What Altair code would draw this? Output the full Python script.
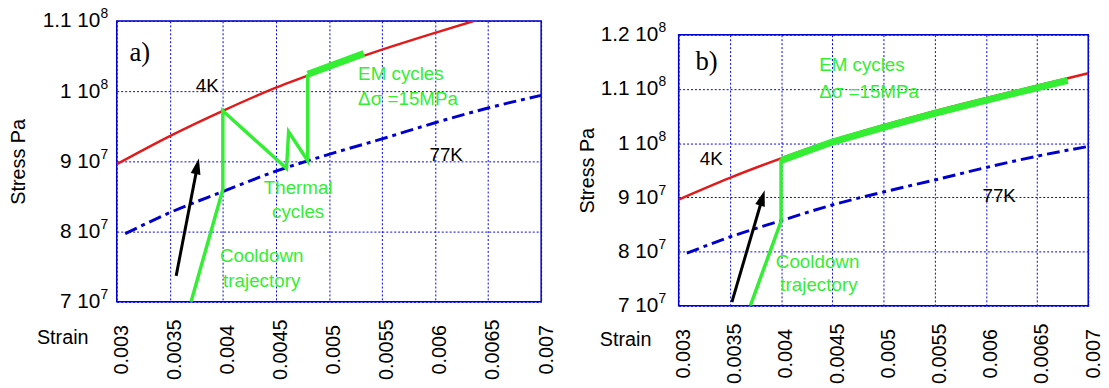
import altair as alt
import pandas as pd

# ---------------- data ----------------
strain_ticks = [0.003, 0.0035, 0.004, 0.0045, 0.005, 0.0055, 0.006, 0.0065, 0.007]

# 4K yield curve (red)
strain_4k = [0.003, 0.0035, 0.004, 0.0045, 0.005, 0.0055, 0.006, 0.0065, 0.007]
stress_4k = [8.96e7, 9.36e7, 9.72e7, 1.005e8, 1.033e8, 1.059e8, 1.083e8, 1.106e8, 1.129e8]

# 77K yield curve (blue dash-dot)
strain_77k = [0.00308, 0.0035, 0.004, 0.0045, 0.005, 0.0055, 0.006, 0.0065, 0.007]
stress_77k = [7.97e7, 8.27e7, 8.57e7, 8.86e7, 9.10e7, 9.32e7, 9.55e7, 9.76e7, 9.94e7]

# panel a) trajectory (green)
a_path_strain = [0.0037, 0.004, 0.004, 0.0046, 0.00462, 0.0048, 0.0048]
a_path_stress = [7.0e7, 8.6e7, 9.72e7, 8.9e7, 9.42e7, 9.01e7, 1.024e8]
a_em_strain = [0.0048, 0.00533]
a_em_stress = [1.024e8, 1.0535e8]
a_arrow_strain = [0.00356, 0.003774]
a_arrow_stress = [7.37e7, 9.04e7]
a_yticks = [7e7, 8e7, 9e7, 1e8, 1.1e8]

# panel b) trajectory (green)
b_path_strain = [0.0037, 0.004, 0.004]
b_path_stress = [7.0e7, 8.56e7, 9.71e7]
b_em_strain = [0.004, 0.0045, 0.005, 0.0055, 0.006, 0.0065, 0.0068]
b_em_stress = [9.68e7, 1.002e8, 1.029e8, 1.055e8, 1.079e8, 1.102e8, 1.116e8]
b_arrow_strain = [0.00352, 0.00384]
b_arrow_stress = [7.07e7, 9.13e7]
b_yticks = [7e7, 8e7, 9e7, 1e8, 1.1e8, 1.2e8]

# annotations (text, strain, stress)
a_center_txt = ["4K", "77K", "Thermal", "cycles", "Cooldown", "trajectory"]
a_center_x = [0.003853, 0.006105, 0.00471, 0.00471, 0.004366, 0.004366]
a_center_y = [1.007e8, 9.085e7, 8.62e7, 8.28e7, 7.648e7, 7.296e7]
a_center_col = ["black", "black", "green", "green", "green", "green"]
a_left_txt = ["EM cycles", "Δσ =15MPa"]
a_left_x = [0.005275, 0.005275]
a_left_y = [1.024e8, 9.887e7]
a_tag = ["a)"]
a_tag_x = [0.00312]
a_tag_y = [1.0535e8]

b_center_txt = ["4K", "77K", "Cooldown", "trajectory"]
b_center_x = [0.003319, 0.00613, 0.004357, 0.00437]
b_center_y = [9.70e7, 9.03e7, 7.803e7, 7.383e7]
b_center_col = ["black", "black", "green", "green"]
b_left_txt = ["EM cycles", "Δσ =15MPa"]
b_left_x = [0.004372, 0.004372]
b_left_y = [1.1434e8, 1.0942e8]
b_tag = ["b)"]
b_tag_x = [0.003164]
b_tag_y = [1.149e8]

RED = "#e41a1a"
BLUE = "#0000cc"
GREEN = "#33ee33"
FONT = "Liberation Sans"

YMAIN = ("datum.value >= 1e8 ? format(datum.value/1e8, '.2~g') + ' 10' "
         ": format(datum.value/1e7, '.2~g') + ' 10'")
YSUP = "datum.value >= 1e8 ? '8' : '7'"


def panel(w, h, ydom, yticks, path_x, path_y, em_x, em_y, arr_x, arr_y,
          ctxt, cx, cy, ccol, ltxt, lx, ly, tag, tx, ty, arrow_angle,
          ytitle_x, ylabel_pad, xtitle_x, xtitle_y):
    xs = alt.Scale(domain=[0.003, 0.007], nice=False, zero=False)
    ys = alt.Scale(domain=ydom, nice=False, zero=False)
    xax = alt.Axis(values=strain_ticks, format="~g", labelAngle=270,
                   labelAlign="center", labelBaseline="middle",
                   labelPadding=48, labelOffset=5, tickSize=0,
                   title="Strain", titleX=xtitle_x, titleY=xtitle_y,
                   titleAlign="right", titleBaseline="middle", titleAngle=0)
    yax = alt.Axis(values=yticks, labelExpr=YMAIN, labelPadding=ylabel_pad,
                   labelFontSize=21,
                   tickSize=0, title="Stress Pa", titleX=ytitle_x, titleY=h / 2,
                   titleAlign="center", titleBaseline="middle", titleAngle=270,
                   orient="left", offset=0)
    ysup = alt.Axis(values=yticks, labelExpr=YSUP, labelPadding=ylabel_pad,
                    labelAlign="left", labelBaseline="middle", labelFontSize=14,
                    labelOffset=-7, tickSize=0, grid=False, title="",
                    orient="left", offset=0)

    X = alt.X("x:Q", scale=xs, axis=xax)
    Xn = alt.X("x:Q", scale=xs)
    Y = alt.Y("y:Q", scale=ys, axis=yax)
    Ys = alt.Y("y:Q", scale=ys, axis=ysup)
    Yn = alt.Y("y:Q", scale=ys, axis=None)

    red = alt.Chart(pd.DataFrame({"x": strain_4k, "y": stress_4k})).mark_line(
        color=RED, strokeWidth=2.5, interpolate="monotone", clip=True
    ).encode(x=X, y=Y)
    sup = alt.Chart(pd.DataFrame({"x": [0.003] * len(yticks), "y": yticks})).mark_point(
        opacity=0, size=1
    ).encode(x=Xn, y=Ys)
    blue = alt.Chart(pd.DataFrame({"x": strain_77k, "y": stress_77k})).mark_line(
        color=BLUE, strokeWidth=3, strokeDash=[13, 5, 4, 5], interpolate="monotone", clip=True
    ).encode(x=Xn, y=Yn)
    path = alt.Chart(pd.DataFrame({"x": path_x, "y": path_y, "i": list(range(len(path_x)))})).mark_line(
        color=GREEN, strokeWidth=3.5, clip=True
    ).encode(x=Xn, y=Yn, order="i:Q")
    em = alt.Chart(pd.DataFrame({"x": em_x, "y": em_y, "i": list(range(len(em_x)))})).mark_line(
        color=GREEN, strokeWidth=7, clip=True
    ).encode(x=Xn, y=Yn, order="i:Q")

    # arrow: shaft stops inside the head
    sx = [arr_x[0], arr_x[0] + 0.88 * (arr_x[1] - arr_x[0])]
    sy = [arr_y[0], arr_y[0] + 0.88 * (arr_y[1] - arr_y[0])]
    shaft = alt.Chart(pd.DataFrame({"x": sx, "y": sy})).mark_line(
        color="black", strokeWidth=3
    ).encode(x=Xn, y=Yn)
    head = alt.Chart(pd.DataFrame({"x": [arr_x[1]], "y": [arr_y[1]]})).mark_point(
        shape="M0,0L1,3.2L-1,3.2Z", filled=True, size=100, color="black",
        opacity=1, strokeWidth=0, angle=arrow_angle
    ).encode(x=Xn, y=Yn)

    ctext = alt.Chart(pd.DataFrame({"x": cx, "y": cy, "t": ctxt, "c": ccol})).mark_text(
        font=FONT, fontSize=19, align="center", baseline="middle"
    ).encode(x=Xn, y=Yn, text="t:N",
             color=alt.Color("c:N", scale=alt.Scale(domain=["black", "green"], range=["black", GREEN]), legend=None))
    ltext = alt.Chart(pd.DataFrame({"x": lx, "y": ly, "t": ltxt})).mark_text(
        font=FONT, fontSize=19, align="left", baseline="middle", color=GREEN
    ).encode(x=Xn, y=Yn, text="t:N")
    tagtext = alt.Chart(pd.DataFrame({"x": tx, "y": ty, "t": tag})).mark_text(
        font="Liberation Serif", fontSize=27, align="left", baseline="middle", color="black"
    ).encode(x=Xn, y=Yn, text="t:N")

    return alt.layer(red, sup, blue, path, em, shaft, head, ctext, ltext, tagtext).resolve_axis(
        y="independent").properties(width=w, height=h)


def spacer(hgt):
    return alt.Chart(pd.DataFrame({"v": [0]})).mark_point(opacity=0, size=1).encode(
        x=alt.X("v:Q", axis=None), y=alt.Y("v:Q", axis=None)
    ).properties(width=10, height=hgt, view=alt.ViewBackground(stroke="transparent"))


pa = panel(429, 284, [7e7, 1.1e8], a_yticks, a_path_strain, a_path_stress,
           a_em_strain, a_em_stress, a_arrow_strain, a_arrow_stress,
           a_center_txt, a_center_x, a_center_y, a_center_col,
           a_left_txt, a_left_x, a_left_y, a_tag, a_tag_x, a_tag_y, 12,
           -99.5, 17, -29, 36)
pb = panel(414, 274, [7e7, 1.2e8], b_yticks, b_path_strain, b_path_stress,
           b_em_strain, b_em_stress, b_arrow_strain, b_arrow_stress,
           b_center_txt, b_center_x, b_center_y, b_center_col,
           b_left_txt, b_left_x, b_left_y, b_tag, b_tag_x, b_tag_y, 17,
           -92, 21, -28, 34)

left = alt.vconcat(spacer(2), pa, spacing=0)
right = alt.vconcat(spacer(16), pb, spacing=0)

chart = alt.hconcat(left, right, spacing=20).properties(
    padding={"left": 7, "top": 0, "right": 5, "bottom": 5},
    background="white",
).configure_view(
    stroke=BLUE, strokeWidth=1.5
).configure_axis(
    grid=True, gridColor="#0000ff", gridDash=[2, 2], gridWidth=1, gridOpacity=1,
    domain=False, labelFont=FONT, labelFontSize=20, labelColor="black",
    titleFont=FONT, titleFontSize=20, titleFontWeight="normal", titleColor="black",
    labelOverlap=False, labelBound=False, labelFlush=False
)

chart.save("out.html", embed_options={"renderer": "svg", "actions": False})
